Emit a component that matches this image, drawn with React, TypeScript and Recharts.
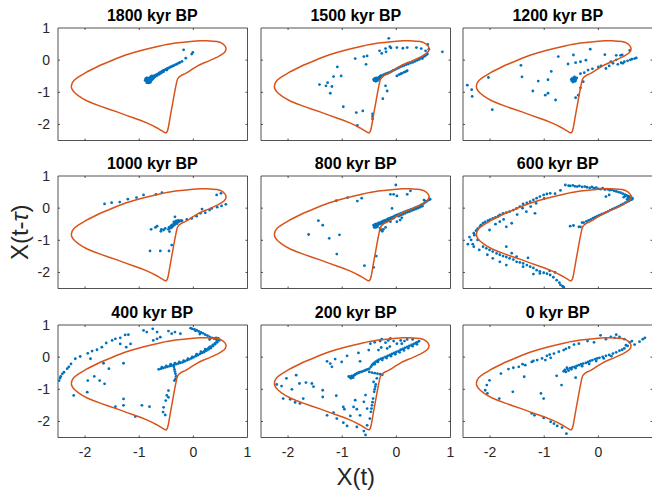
import React from 'react';
import { ScatterChart, Scatter, XAxis, YAxis, ReferenceArea, ReferenceLine } from 'recharts';

type P = [number, number];

const titles = ['1800 kyr BP', '1500 kyr BP', '1200 kyr BP', '1000 kyr BP', '800 kyr BP', '600 kyr BP', '400 kyr BP', '200 kyr BP', '0 kyr BP'];
const xTicks = [-2, -1, 0, 1];
const yTicks = [1, 0, -1, -2];
const domain: [number, number] = [-2.5, 1];

// limit cycle (orange)
const cycle: P[] = [
  [-2.255, -0.82], [-2.24, -0.72], [-2.21, -0.64], [-2.17, -0.58], [-2.12, -0.52], [-2.04, -0.44], [-1.96, -0.36], [-1.84, -0.26], [-1.72, -0.16],
  [-1.56, -0.05], [-1.41, 0.06], [-1.25, 0.16], [-1.1, 0.24], [-0.95, 0.31], [-0.8, 0.37], [-0.64, 0.43], [-0.49, 0.49], [-0.33, 0.53],
  [-0.18, 0.56], [0.0, 0.59], [0.12, 0.6], [0.25, 0.6], [0.36, 0.59], [0.44, 0.58], [0.5, 0.55], [0.55, 0.5], [0.59, 0.43], [0.605, 0.36],
  [0.595, 0.29], [0.57, 0.23], [0.52, 0.17], [0.46, 0.11], [0.37, 0.04], [0.28, -0.03], [0.19, -0.09], [0.11, -0.15], [0.05, -0.21],
  [-0.02, -0.28], [-0.08, -0.35], [-0.15, -0.42], [-0.21, -0.46], [-0.26, -0.52], [-0.29, -0.58], [-0.305, -0.66], [-0.32, -0.78],
  [-0.34, -0.95], [-0.36, -1.13], [-0.38, -1.32], [-0.405, -1.55], [-0.43, -1.79], [-0.45, -1.98], [-0.465, -2.12], [-0.48, -2.21],
  [-0.5, -2.26], [-0.52, -2.26], [-0.55, -2.23], [-0.61, -2.17], [-0.67, -2.11], [-0.76, -2.03], [-0.86, -1.95], [-0.98, -1.87],
  [-1.1, -1.8], [-1.25, -1.71], [-1.41, -1.61], [-1.57, -1.52], [-1.72, -1.43], [-1.85, -1.35], [-1.96, -1.27], [-2.05, -1.19],
  [-2.12, -1.11], [-2.18, -1.03], [-2.22, -0.96], [-2.245, -0.89], [-2.255, -0.82],
];

const p1800: P[] = [
  [-0.88, -0.58], [-0.87, -0.62], [-0.86, -0.66], [-0.85, -0.55], [-0.85, -0.6], [-0.84, -0.64], [-0.84, -0.69], [-0.83, -0.57],
  [-0.82, -0.61], [-0.82, -0.66], [-0.81, -0.55], [-0.8, -0.6], [-0.8, -0.64], [-0.79, -0.68], [-0.78, -0.57], [-0.77, -0.62],
  [-0.76, -0.53], [-0.75, -0.58], [-0.74, -0.5], [-0.73, -0.54], [-0.86, -0.7], [-0.83, -0.71], [-0.79, -0.52], [-0.77, -0.49],
  [-0.89, -0.63], [-0.87, -0.56], [-0.81, -0.7], [-0.76, -0.6], [-0.74, -0.56], [-0.71, -0.52], [-0.69, -0.47],
  [-0.72, -0.48], [-0.7, -0.5], [-0.68, -0.45], [-0.67, -0.48], [-0.66, -0.44], [-0.64, -0.41], [-0.63, -0.44], [-0.62, -0.39],
  [-0.6, -0.37], [-0.59, -0.4], [-0.58, -0.35], [-0.56, -0.33], [-0.55, -0.36], [-0.54, -0.31], [-0.52, -0.3], [-0.5, -0.28],
  [-0.49, -0.31], [-0.48, -0.26], [-0.46, -0.25], [-0.44, -0.23], [-0.42, -0.21], [-0.4, -0.2], [-0.38, -0.18], [-0.36, -0.17],
  [-0.33, -0.14], [-0.3, -0.12], [-0.27, -0.09], [-0.25, -0.07],
  [-0.18, 0.32], [-0.01, 0.24], [-0.03, 0.19], [-0.14, 0.06], [-0.21, -0.04],
];

const p1500: P[] = [
  [-0.42, -0.6], [-0.41, -0.64], [-0.4, -0.57], [-0.39, -0.62], [-0.38, -0.66], [-0.37, -0.55], [-0.36, -0.6], [-0.35, -0.64],
  [-0.34, -0.56], [-0.33, -0.6], [-0.32, -0.53], [-0.31, -0.57], [-0.3, -0.5], [-0.29, -0.55], [-0.28, -0.48], [-0.26, -0.5],
  [-0.24, -0.46], [-0.22, -0.45], [-0.2, -0.43], [-0.18, -0.42], [-0.15, -0.4], [-0.12, -0.38], [-0.09, -0.35], [-0.06, -0.32],
  [-0.03, -0.3], [0.0, -0.27], [0.03, -0.25], [0.06, -0.22], [0.1, -0.19], [0.14, -0.17], [0.18, -0.14], [0.22, -0.12],
  [0.26, -0.09], [0.3, -0.07], [0.34, -0.04], [0.38, -0.01], [0.42, 0.02], [0.45, 0.06], [0.48, 0.09], [0.52, 0.12], [0.55, 0.16], [0.57, 0.2],
  [0.01, -0.49], [0.05, -0.45], [0.1, -0.41], [0.14, -0.38], [0.17, -0.36], [0.2, -0.33], [0.08, -0.43],
  [-0.14, 0.68], [-0.31, 0.29], [-0.2, 0.36], [-0.12, 0.42], [-0.1, 0.38], [-0.27, 0.21], [-0.19, 0.26],
  [0.01, 0.39], [0.12, 0.37], [0.2, 0.39], [0.37, 0.39], [0.46, 0.36], [0.54, 0.29], [0.58, 0.49], [0.6, 0.34], [0.85, 0.26],
  [0.51, 0.13], [0.57, 0.19], [0.48, 0.05],
  [-0.76, 0.05], [-0.6, 0.11], [-0.54, 0.13], [-0.56, -0.13], [-1.09, -0.21], [-1.16, -0.51], [-1.02, -0.49], [-1.27, -0.7],
  [-1.42, -0.76], [-1.3, -0.8], [-1.19, -0.82], [-1.22, -1.03], [-0.98, -1.45], [-0.74, -1.63], [-0.62, -1.58], [-0.72, -2.03],
  [-0.44, -1.67], [-0.44, -1.75], [-0.44, -1.83], [-0.25, -1.2], [-0.17, -0.96], [-0.2, -0.8],
];

const p1200: P[] = [
  [-0.5, -0.6], [-0.49, -0.64], [-0.48, -0.57], [-0.47, -0.62], [-0.46, -0.66], [-0.46, -0.55], [-0.45, -0.6], [-0.44, -0.64],
  [-0.43, -0.57], [-0.42, -0.62], [-0.41, -0.58], [-0.4, -0.55], [-0.47, -0.68], [-0.44, -0.52], [-0.48, -0.6], [-0.43, -0.66],
  [-2.42, -0.78], [-2.34, -0.92], [-2.33, -1.13], [-1.96, -1.54], [-2.03, -0.54],
  [-1.43, -0.16], [-1.41, -0.52], [-1.21, -0.96], [-1.11, -0.65], [-0.98, -1.09], [-0.93, -1.03], [-0.93, -0.61], [-0.87, -0.35],
  [-0.79, -1.24], [-0.74, 0.11], [-0.56, -0.12], [-0.46, 0.16], [-0.42, -0.08], [-0.33, -0.05], [-0.23, 0.0], [-0.15, 0.34],
  [-0.42, -1.17], [-0.37, -1.09], [-0.33, -0.86], [-0.28, -0.67], [-0.33, -0.42], [-0.26, -0.39], [-0.19, -0.31], [-0.11, -0.27],
  [0.0, -0.21], [0.05, -0.18], [0.14, -0.26], [0.12, 0.17], [0.2, -0.18], [0.23, -0.05], [0.33, 0.01], [0.33, 0.15], [0.41, 0.15],
  [0.36, -0.13], [0.42, -0.08], [0.45, -0.1], [0.54, -0.02], [0.59, 0.01], [0.58, 0.3], [0.67, 0.05], [0.7, 0.07], [0.48, -0.05],
  [0.27, -0.1], [0.62, 0.03], [0.44, 0.16],
];

const p1000: P[] = [
  [-1.64, 0.13], [-1.51, 0.17], [-1.36, 0.19], [-1.21, 0.28], [-1.05, 0.33], [-0.92, 0.41], [-0.69, 0.43], [-0.58, 0.48],
  [0.43, 0.41], [0.51, 0.46], [0.6, 0.12], [0.52, 0.07], [0.44, 0.03], [0.34, -0.01], [0.3, -0.06], [0.22, -0.14], [0.16, -0.03],
  [0.13, -0.16], [0.06, -0.25], [-0.03, -0.32], [-0.12, -0.35], [-0.21, -0.39], [-0.34, -0.27], [-0.32, -0.47], [-0.37, -0.53],
  [-0.43, -0.6], [-0.46, -0.66], [-0.55, -0.68], [-0.59, -0.66], [-0.67, -0.56], [-0.78, -0.66], [-0.7, -0.6], [-0.6, -0.72],
  [-0.52, -0.63], [-0.8, -1.33], [-0.61, -1.33], [-0.45, -1.33], [-0.4, -1.15], [-0.44, -0.73],
  [-0.45, -0.6], [-0.43, -0.58], [-0.41, -0.56], [-0.4, -0.53], [-0.38, -0.52], [-0.36, -0.5], [-0.35, -0.47], [-0.33, -0.46],
  [-0.31, -0.44], [-0.29, -0.43], [-0.27, -0.42], [-0.25, -0.4], [-0.23, -0.39], [-0.39, -0.57], [-0.37, -0.55], [-0.34, -0.51],
  [-0.3, -0.48], [-0.42, -0.62], [-0.4, -0.6], [-0.36, -0.43], [-0.32, -0.4], [-0.28, -0.38],
];

const p800: P[] = [
  [-0.01, 0.72], [-0.11, 0.43], [-0.05, 0.43], [0.01, 0.38], [0.2, 0.43], [0.26, 0.54], [-0.08, -0.01], [-0.9, 0.33], [-0.72, 0.22],
  [-0.64, 0.31], [-1.11, 0.23], [-1.44, -0.39], [-1.36, -0.53], [-1.62, -0.82], [-1.24, -0.94], [-1.05, -0.83], [-1.1, -1.43],
  [-0.59, -1.79], [-0.42, -1.84], [-0.37, -1.49], [-0.24, -0.66], [-0.2, -0.6], [-0.11, -0.42], [0.01, -0.42], [0.07, -0.37],
  [0.1, -0.3], [0.51, 0.25], [0.54, 0.22], [0.62, 0.28],
  [-0.42, -0.53], [-0.39, -0.5], [-0.36, -0.49], [-0.33, -0.46], [-0.3, -0.45], [-0.27, -0.42], [-0.24, -0.4], [-0.21, -0.38],
  [-0.18, -0.36], [-0.15, -0.33], [-0.12, -0.31], [-0.09, -0.29], [-0.06, -0.27], [-0.03, -0.24], [0.0, -0.22], [0.03, -0.2],
  [0.06, -0.18], [0.09, -0.16], [0.12, -0.14], [0.15, -0.12], [0.18, -0.1], [0.21, -0.08], [0.24, -0.06], [0.27, -0.04],
  [0.3, -0.02], [0.33, 0.0], [0.36, 0.02], [0.39, 0.04], [0.42, 0.06], [0.45, 0.09], [0.48, 0.12], [0.51, 0.15], [0.54, 0.19],
  [0.57, 0.22], [0.6, 0.26], [0.62, 0.28],
  [-0.4, -0.57], [-0.37, -0.55], [-0.34, -0.52], [-0.31, -0.5], [-0.28, -0.48], [-0.25, -0.46], [-0.22, -0.44], [-0.19, -0.41],
  [-0.16, -0.39], [-0.13, -0.36], [-0.1, -0.34], [-0.07, -0.32], [-0.04, -0.3], [0.04, -0.25], [0.08, -0.22], [0.12, -0.19],
  [0.16, -0.16], [0.2, -0.13], [0.24, -0.11], [0.28, -0.08], [0.32, -0.05], [0.36, -0.03], [0.4, 0.0], [0.44, 0.03], [0.48, 0.06],
  [-0.41, -0.6], [-0.38, -0.6], [-0.35, -0.58], [-0.3, -0.62], [-0.28, -0.68], [-0.26, -0.72],
];

const p600: P[] = [
  [-0.61, 0.72], [-0.55, 0.7], [-0.52, 0.69], [-0.47, 0.71], [-0.43, 0.68], [-0.39, 0.67], [-0.35, 0.69], [-0.3, 0.66], [-0.25, 0.67],
  [-0.21, 0.65], [-0.16, 0.63], [-0.12, 0.66], [-0.08, 0.62], [-0.04, 0.64], [0.0, 0.6], [0.04, 0.59], [0.08, 0.62], [0.12, 0.58],
  [0.17, 0.59], [0.21, 0.56], [0.25, 0.57], [0.29, 0.54], [0.33, 0.52], [0.37, 0.5], [0.41, 0.48], [0.45, 0.45], [0.49, 0.42],
  [0.52, 0.4], [0.55, 0.37], [0.58, 0.35], [0.61, 0.32], [0.63, 0.3], [0.6, 0.26], [0.57, 0.23], [0.54, 0.2], [0.5, 0.17],
  [0.46, 0.13], [0.42, 0.1], [0.38, 0.06], [0.34, 0.03], [0.3, 0.0], [0.26, -0.03], [0.22, -0.06], [0.18, -0.1], [0.14, -0.13],
  [0.1, -0.16], [0.06, -0.19], [0.02, -0.22], [-0.02, -0.25], [-0.06, -0.28], [-0.1, -0.31], [-0.14, -0.35], [-0.18, -0.38],
  [-0.22, -0.41], [-0.27, -0.45], [-0.36, -0.58], [-0.46, -0.54], [-0.52, -0.56],
  [0.5, 0.38], [0.55, 0.33], [0.58, 0.28], [0.53, 0.27], [0.47, 0.34], [0.6, 0.36], [0.62, 0.27], [0.2, 0.41], [0.14, 0.36],
  [-0.89, 0.46], [-0.95, 0.44], [-1.01, 0.41], [-1.08, 0.36], [-1.14, 0.31], [-1.2, 0.26], [-1.26, 0.2], [-1.32, 0.16], [-1.39, 0.13],
  [-1.45, 0.05], [-1.51, -0.01], [-1.57, -0.06], [-1.64, -0.11], [-1.7, -0.14], [-1.76, -0.16], [-1.82, -0.21], [-1.85, -0.25],
  [-1.9, -0.29], [-1.95, -0.32], [-2.0, -0.36], [-2.04, -0.39], [-2.09, -0.43], [-2.13, -0.47], [-2.17, -0.53], [-2.19, -0.58],
  [-2.23, -0.64], [-2.26, -0.7], [-2.29, -0.84], [-2.35, -0.99], [-2.41, -1.12], [-2.32, -1.12], [-2.23, -0.99], [-2.3, -0.78], [-2.38, -0.9],
  [-1.82, -0.42], [-1.7, -0.58], [-1.6, -0.47], [-1.17, -0.16], [-1.33, -0.11], [-2.01, -0.68], [-1.5, -0.2], [-1.9, -0.5],
  [-1.75, -0.35], [-1.4, 0.0], [-1.15, 0.15], [-0.8, 0.45], [-0.7, 0.55], [-1.0, 0.3], [-1.25, 0.05],
  [-2.13, -1.2], [-2.07, -1.25], [-2.01, -1.3], [-1.95, -1.35], [-1.88, -1.41], [-1.82, -1.45], [-1.76, -1.49], [-1.7, -1.52],
  [-1.64, -1.56], [-1.57, -1.6], [-1.51, -1.67], [-1.45, -1.69], [-1.39, -1.72], [-1.32, -1.77], [-1.26, -1.82], [-1.2, -1.86],
  [-1.14, -1.93], [-1.08, -1.97], [-1.01, -2.01], [-0.95, -2.04], [-0.89, -2.08], [-0.83, -2.15], [-0.77, -2.24], [-0.72, -2.32],
  [-0.7, -2.39], [-0.66, -2.43], [-0.64, -2.46],
  [-1.82, -1.67], [-1.7, -1.77], [-1.95, -1.56], [-1.51, -1.51], [-1.39, -1.82], [-1.08, -2.03], [-1.2, -2.05], [-1.7, -1.2],
  [-2.2, -1.3], [-2.05, -1.45], [-1.6, -1.4], [-1.3, -1.55], [-0.9, -1.95], [-0.8, -2.0], [-2.3, -1.2],
  [-0.33, -0.58], [-0.3, -0.45],
];

const p400: P[] = [
  [-2.48, -0.73], [-2.45, -0.6], [-2.39, -0.47], [-2.33, -0.36], [-2.26, -0.21], [-2.18, -0.05], [-2.09, 0.02], [-1.95, 0.12],
  [-1.87, 0.19], [-1.78, 0.23], [-1.69, 0.31], [-1.61, 0.44], [-1.5, 0.52], [-1.44, 0.57], [-1.35, 0.6], [-1.26, 0.69], [-1.2, 0.7],
  [-1.16, 0.41], [-1.24, 0.31], [-1.35, 0.41], [-2.46, -0.65], [-2.42, -0.52], [-2.3, -0.3],
  [-0.92, 0.83], [-0.86, 0.78], [-0.75, 0.88], [-0.67, 0.78], [-0.61, 0.62], [-0.46, 0.81], [-0.4, 0.73], [-0.34, 0.78],
  [-0.24, 0.73], [-0.74, 0.52], [-0.67, 0.57],
  [-0.05, 0.9], [-0.02, 0.88], [0.02, 0.86], [0.06, 0.84], [0.1, 0.8], [0.14, 0.77], [0.18, 0.74], [0.22, 0.7], [0.26, 0.67],
  [0.3, 0.63], [0.34, 0.6], [0.38, 0.58], [0.42, 0.56], [0.46, 0.58], [0.48, 0.52], [0.44, 0.46], [0.4, 0.4], [0.36, 0.34],
  [0.32, 0.28], [0.28, 0.24], [0.24, 0.2], [0.2, 0.16], [0.16, 0.13], [0.04, 0.82], [0.12, 0.72], [0.3, 0.55], [0.42, 0.6],
  [-0.64, -0.38], [-0.6, -0.36], [-0.56, -0.34], [-0.52, -0.32], [-0.48, -0.3], [-0.44, -0.28], [-0.4, -0.26], [-0.36, -0.24],
  [-0.32, -0.22], [-0.28, -0.2], [-0.24, -0.18], [-0.2, -0.16], [-0.16, -0.13], [-0.12, -0.1], [-0.08, -0.07], [-0.04, -0.04],
  [0.0, -0.01], [0.04, 0.03], [0.08, 0.06], [0.12, 0.1], [0.16, 0.14], [0.2, 0.18], [0.24, 0.23], [0.28, 0.28], [0.32, 0.33],
  [0.36, 0.38], [0.4, 0.43], [0.43, 0.48], [0.45, 0.53],
  [-0.58, -0.31], [-0.5, -0.27], [-0.42, -0.22], [-0.34, -0.19], [-0.26, -0.15], [-0.18, -0.11], [-0.1, -0.05], [-0.02, 0.01],
  [0.06, 0.09], [0.14, 0.17], [0.22, 0.25], [0.3, 0.31],
  [-0.36, -0.3], [-0.35, -0.38], [-0.34, -0.45], [-0.33, -0.52], [-0.32, -0.6], [-0.33, -0.68], [-0.35, -0.73],
  [-0.46, -1.04], [-0.49, -1.19], [-0.51, -1.35], [-0.46, -1.25], [-0.55, -1.56], [-0.56, -1.71], [-0.52, -1.8],
  [-1.9, -0.05], [-1.66, -0.19], [-1.56, -0.36], [-1.29, -0.19], [-1.95, -0.73], [-1.83, -0.6], [-1.73, -0.73], [-1.64, -0.83],
  [-1.96, -1.09], [-2.21, -1.19], [-1.29, -1.3], [-1.29, -1.5], [-1.44, -1.54], [-1.07, -1.85], [-0.95, -1.5], [-0.81, -1.54],
];

const p200: P[] = [
  [-0.86, -0.62], [-0.84, -0.6], [-0.82, -0.58], [-0.8, -0.6], [-0.78, -0.56], [-0.76, -0.54], [-0.74, -0.52], [-0.72, -0.5],
  [-0.7, -0.49], [-0.68, -0.47], [-0.65, -0.46], [-0.62, -0.44], [-0.59, -0.42], [-0.56, -0.4], [-0.53, -0.38], [-0.5, -0.36],
  [-0.47, -0.3], [-0.45, -0.25], [-0.43, -0.21], [-0.41, -0.18], [-0.38, -0.14], [-0.35, -0.11], [-0.32, -0.08], [-0.28, -0.05],
  [-0.24, -0.02], [-0.2, 0.01], [-0.16, 0.04], [-0.12, 0.07], [-0.08, 0.1], [-0.04, 0.13], [0.0, 0.16], [0.04, 0.19], [0.08, 0.23],
  [0.12, 0.26], [0.16, 0.29], [0.2, 0.32], [0.24, 0.35], [0.28, 0.38], [0.32, 0.41], [0.36, 0.44], [0.39, 0.47], [0.42, 0.5],
  [-0.84, -0.66], [-0.8, -0.64], [-0.88, -0.6], [-0.4, -0.22], [-0.34, -0.15], [-0.26, -0.09], [-0.18, -0.03], [-0.1, 0.03],
  [-0.02, 0.09], [0.06, 0.15], [0.14, 0.21], [0.22, 0.28], [0.3, 0.34], [0.38, 0.4],
  [-0.5, -0.46], [-0.45, -0.48], [-0.4, -0.5], [-0.35, -0.51], [-0.3, -0.53], [-0.26, -0.55],
  [-0.27, 0.56], [-0.11, 0.58], [0.01, 0.42], [0.1, 0.42], [-0.17, 0.27], [-0.33, 0.22], [-0.48, 0.42], [-0.51, 0.22],
  [-0.3, 0.5], [-0.2, 0.45], [-0.15, 0.52], [-0.05, 0.5], [0.08, 0.52], [0.15, 0.5], [-0.28, 0.3], [-0.12, 0.33], [-0.4, 0.46],
  [0.2, 0.55], [0.3, 0.55],
  [-1.28, -0.13], [-1.22, -0.2], [-1.13, -0.06], [-1.01, -0.15], [-0.91, 0.04], [-0.7, 0.13], [-0.67, -0.13], [-1.19, -0.3],
  [-1.85, -0.56], [-2.03, -0.66], [-2.12, -0.9], [-2.21, -0.85], [-1.93, -1.0], [-1.79, -0.82], [-1.67, -0.79], [-1.56, -0.82],
  [-1.53, -0.92], [-1.36, -1.03], [-1.36, -1.24], [-1.11, -1.2], [-2.09, -1.29], [-1.96, -1.31], [-1.87, -1.41], [-1.78, -1.44],
  [-1.72, -1.29], [-1.28, -1.81], [-1.16, -1.73], [-1.1, -1.91], [-0.98, -2.04], [-0.91, -2.14], [-0.85, -1.83], [-0.98, -1.55],
  [-0.96, -1.62], [-0.79, -1.55], [-0.76, -1.34], [-0.73, -1.62], [-0.67, -1.81], [-0.6, -2.3], [-0.57, -2.42], [-0.73, -2.17],
  [-0.42, -0.77], [-0.39, -0.92], [-0.41, -1.08], [-0.43, -1.29], [-0.45, -1.5], [-0.47, -1.7], [-0.49, -1.91], [-0.54, -2.12],
  [-0.57, -1.18], [-0.6, -1.39], [-0.54, -1.6], [-0.36, -0.66], [-0.38, -0.85], [-0.4, -1.0], [-0.44, -1.4], [-0.46, -1.6],
];

const p0: P[] = [
  [-1.66, -0.37], [-1.57, -0.33], [-1.47, -0.3], [-1.35, -0.25], [-1.23, -0.15], [-1.13, -0.09], [-1.04, -0.04], [-0.95, 0.04],
  [-0.82, 0.11], [-0.73, 0.17], [-0.64, 0.22], [-0.54, 0.3], [-0.45, 0.39], [-0.36, 0.42], [-0.88, -0.02], [-0.98, -0.09],
  [-1.4, -0.22], [-1.2, -0.12], [-0.9, 0.08], [-0.6, 0.26],
  [-0.2, 0.5], [-0.08, 0.46], [0.04, 0.68], [0.14, 0.56], [0.23, 0.63], [0.33, 0.7], [0.39, 0.63], [0.48, 0.56], [0.58, 0.46],
  [0.67, 0.39], [0.76, 0.48], [0.82, 0.56], [0.86, 0.6], [0.51, 0.37], [0.3, 0.6], [0.62, 0.5],
  [-0.64, -0.44], [-0.57, -0.37], [-0.48, -0.32], [-0.36, -0.25], [-0.23, -0.18], [-0.11, -0.09], [0.02, -0.02], [0.14, 0.04],
  [0.27, 0.11], [0.39, 0.2], [0.48, 0.27], [0.54, 0.35],
  [-0.62, -0.4], [-0.6, -0.46], [-0.55, -0.42], [-0.52, -0.34], [-0.44, -0.3], [-0.4, -0.27], [-0.32, -0.22], [-0.28, -0.2],
  [-0.19, -0.15], [-0.15, -0.12], [-0.06, -0.06], [-0.02, -0.04], [0.08, 0.01], [0.2, 0.07], [0.33, 0.15], [0.44, 0.23],
  [-0.58, -0.33], [-0.5, -0.38], [-0.42, -0.34], [-0.3, -0.28], [-0.17, -0.21], [-0.04, -0.12], [0.1, -0.04], [0.24, 0.03],
  [-1.8, -0.51], [-2.01, -0.72], [-2.06, -0.87], [-2.09, -1.03], [-2.05, -1.13], [-1.83, -1.29], [-1.37, -0.61], [-1.58, -1.08],
  [-1.06, -1.13], [-1.01, -1.29], [-0.68, -0.87], [-0.77, -0.58], [-0.42, -0.64],
  [-1.23, -1.75], [-1.18, -1.81], [-1.01, -1.89], [-0.88, -2.01], [-0.82, -2.07], [-0.76, -2.14], [-0.67, -2.19], [-0.59, -2.38],
];

const panels: P[][] = [p1800, p1500, p1200, p1000, p800, p600, p400, p200, p0];

const colLefts = [57.5, 261, 463];
const rowTops = [27.5, 176, 324.5];
const PW = 189.5;
const PH = 112.5;
const YW = 45;
const XH = 30;
const PAD = 10;
const AX = '#262626';
const FONT = '"Liberation Sans", Arial, Helvetica, sans-serif';
const BLUE = '#0072BD';
const ORANGE = '#D95319';
const TLX = 0.037; // inward tick length, x units
const TLY = 0.062; // inward tick length, y units

const toXY = (arr: P[]) => arr.map(([x, y]) => ({ x, y }));
const cycleData = toXY(cycle);

const Dot = (props: any) => <circle cx={props.cx} cy={props.cy} r={1.4} fill={BLUE} />;
const NoShape = () => <g />;

function Panel({ idx }: { idx: number }) {
  const col = idx % 3;
  const row = Math.floor(idx / 3);
  const left = colLefts[col] - YW;
  const top = rowTops[row] - PAD;
  const data = toXY(panels[idx]);
  const tickStyle = { fontSize: 14, fill: AX, fontFamily: FONT };
  return (
    <div style={{ position: 'absolute', left, top }}>
      <ScatterChart width={YW + PW + PAD} height={PAD + PH + XH} margin={{ top: PAD, right: PAD, bottom: 0, left: 0 }}>
        <XAxis
          type="number" dataKey="x" domain={domain} ticks={xTicks} allowDataOverflow height={XH}
          axisLine={false} tickLine={false} tickMargin={4} interval={0}
          tickFormatter={(v: number) => (col === 2 && v === 1 ? '' : String(v))}
          tick={row === 2 ? tickStyle : false}
        />
        <YAxis
          type="number" dataKey="y" domain={domain} ticks={yTicks} allowDataOverflow width={YW}
          axisLine={false} tickLine={false} tickMargin={2} interval={0}
          tick={col === 0 ? tickStyle : false}
        />
        {xTicks.filter((t) => t < 1).map((t) => (
          <ReferenceLine key={'xb' + t} segment={[{ x: t, y: -2.5 }, { x: t, y: -2.5 + TLY }]} stroke={AX} strokeWidth={0.8} />
        ))}
        {xTicks.filter((t) => t < 1).map((t) => (
          <ReferenceLine key={'xt' + t} segment={[{ x: t, y: 1 }, { x: t, y: 1 - TLY }]} stroke={AX} strokeWidth={0.8} />
        ))}
        {yTicks.filter((t) => t < 1).map((t) => (
          <ReferenceLine key={'yl' + t} segment={[{ x: -2.5, y: t }, { x: -2.5 + TLX, y: t }]} stroke={AX} strokeWidth={0.8} />
        ))}
        {yTicks.filter((t) => t < 1).map((t) => (
          <ReferenceLine key={'yr' + t} segment={[{ x: 1, y: t }, { x: 1 - TLX, y: t }]} stroke={AX} strokeWidth={0.8} />
        ))}
        <Scatter data={data} shape={Dot} fill={BLUE} isAnimationActive={false} />
        <Scatter
          data={cycleData} fill={ORANGE} shape={NoShape} line={{ stroke: ORANGE, strokeWidth: 1.5 }}
          lineType="joint" isAnimationActive={false}
        />
        <ReferenceArea x1={-2.5} x2={1} y1={-2.5} y2={1} fill="none" fillOpacity={0} stroke={AX} strokeWidth={0.8} />
      </ScatterChart>
    </div>
  );
}

export default function App() {
  return (
    <div style={{ position: 'absolute', left: 0, top: 0, width: 652, height: 494, background: '#fff', overflow: 'hidden' }}>
      {titles.map((_, i) => (
        <Panel key={i} idx={i} />
      ))}
      <svg width={652} height={494} style={{ position: 'absolute', left: 0, top: 0, pointerEvents: 'none' }}>
        {titles.map((t, i) => (
          <text
            key={t}
            x={colLefts[i % 3] + PW / 2}
            y={rowTops[Math.floor(i / 3)] - 7}
            textAnchor="middle"
            fontFamily={FONT}
            fontWeight="bold"
            fontSize={16}
            fill="#000"
          >
            {t}
          </text>
        ))}
        <text x={colLefts[1] + PW / 2} y={485} textAnchor="middle" fontFamily={FONT} fontSize={24} fill={AX}>
          X(t)
        </text>
        <text
          x={0}
          y={0}
          transform={`translate(28, ${rowTops[1] + PH / 2}) rotate(-90)`}
          textAnchor="middle"
          fontFamily={FONT}
          fontSize={24}
          fill={AX}
        >
          X(t-<tspan fontStyle="italic">τ</tspan>)
        </text>
      </svg>
    </div>
  );
}
